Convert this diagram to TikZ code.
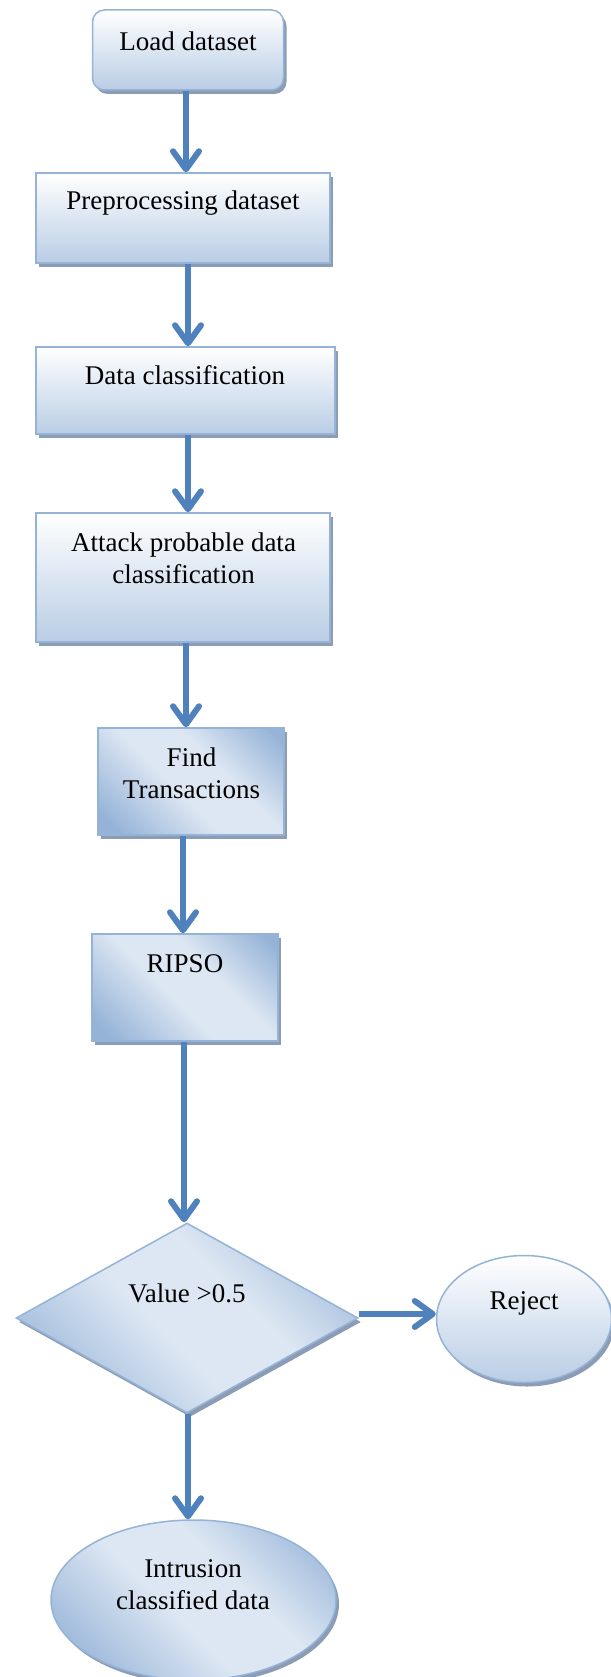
\documentclass[tikz,border=0pt]{standalone}
\usepackage{fontspec}
\setmainfont{Liberation Serif}
\usetikzlibrary{shapes.geometric,shadows,arrows.meta,calc}
\definecolor{bordc}{RGB}{149,179,215}
\definecolor{lowc}{RGB}{185,205,229}
\definecolor{darkc}{RGB}{149,179,215}
\definecolor{lightc}{RGB}{221,231,243}
\definecolor{shadc}{RGB}{140,156,180}
\definecolor{arrc}{RGB}{79,129,189}
\pgfdeclarehorizontalshading{diagsh}{100bp}{color(0bp)=(darkc); color(20bp)=(darkc); color(45bp)=(lightc); color(60bp)=(lightc); color(82bp)=(darkc); color(100bp)=(darkc)}
\begin{document}
\begin{tikzpicture}[x=1pt,y=-1pt,
  base/.style={draw=bordc, line width=1.5pt, inner sep=0pt,
    drop shadow={shadow xshift=3pt, shadow yshift=-4pt, fill=shadc, opacity=1}},
  vgrad/.style={top color=white, bottom color=lowc},
  dgrad/.style={shading=diagsh, shading angle=45},
  box/.style={base, rectangle},
  arr/.style={draw=arrc, line width=6pt, -{Straight Barb[length=18pt,width=26pt,round]}},
  txt/.style={font=\fontsize{27}{32}\selectfont, align=center, inner sep=0pt}]
\useasboundingbox (0,0) rectangle (610,1677);
% shapes
\node[box, vgrad, rounded corners=12pt, minimum width=191pt, minimum height=80pt] (load) at (188,50) {};
\node[box, vgrad, minimum width=294pt, minimum height=90pt] (pre) at (183,218) {};
\node[box, vgrad, minimum width=299pt, minimum height=87pt] (dc) at (185.5,390.5) {};
\node[box, vgrad, minimum width=294pt, minimum height=129pt] (apd) at (183,577.5) {};
\node[box, dgrad, minimum width=186pt, minimum height=107pt] (ft) at (191,781.5) {};
\node[box, dgrad, minimum width=186pt, minimum height=107pt] (ripso) at (185,987.5) {};
\node[base, dgrad, diamond, minimum width=342pt, minimum height=190pt] (dec) at (187,1318) {};
\node[base, vgrad, ellipse, minimum width=175pt, minimum height=127pt] (rej) at (524,1319) {};
\node[base, dgrad, ellipse, minimum width=285pt, minimum height=160pt] (icd) at (193.5,1600) {};
% texts
\node[txt, anchor=base] (tload) at (188,51) {Load dataset};
\node[txt, anchor=base] (tpre) at (183,210) {Preprocessing dataset};
\node[txt, anchor=base] (tdc) at (185,384) {Data classification};
\node[txt] (tapd) at (183.5,558) {Attack probable data\\classification};
\node[txt] (tft) at (191.5,773) {Find\\Transactions};
\node[txt, anchor=base] (tripso) at (185,972) {RIPSO};
\node[txt, anchor=base] (tdec) at (187,1302) {Value >0.5};
\node[txt, anchor=base] (trej) at (524,1309) {Reject};
\node[txt] (ticd) at (193,1585) {Intrusion\\classified data};
% connectors
\draw[arr] ([xshift=-2pt]load.south) -- ([xshift=-2pt]load.south |- pre.north);
\draw[arr] ([xshift=5pt]pre.south) -- ([xshift=5pt]pre.south |- dc.north);
\draw[arr] ([xshift=2.5pt]dc.south) -- ([xshift=2.5pt]dc.south |- apd.north);
\draw[arr] ([xshift=3pt]apd.south) -- ([xshift=3pt]apd.south |- ft.north);
\draw[arr] ([xshift=-8pt]ft.south) -- ([xshift=-8pt]ft.south |- ripso.north);
\draw[arr] ([xshift=-1pt]ripso.south) -- ([xshift=-1pt]ripso.south |- dec.north);
\draw[arr] ([yshift=4pt]dec.east) -- ([yshift=4pt]dec.east -| rej.west);
\draw[arr] ([xshift=1pt]dec.south) -- ([xshift=1pt]dec.south |- icd.north);
\end{tikzpicture}
\end{document}
